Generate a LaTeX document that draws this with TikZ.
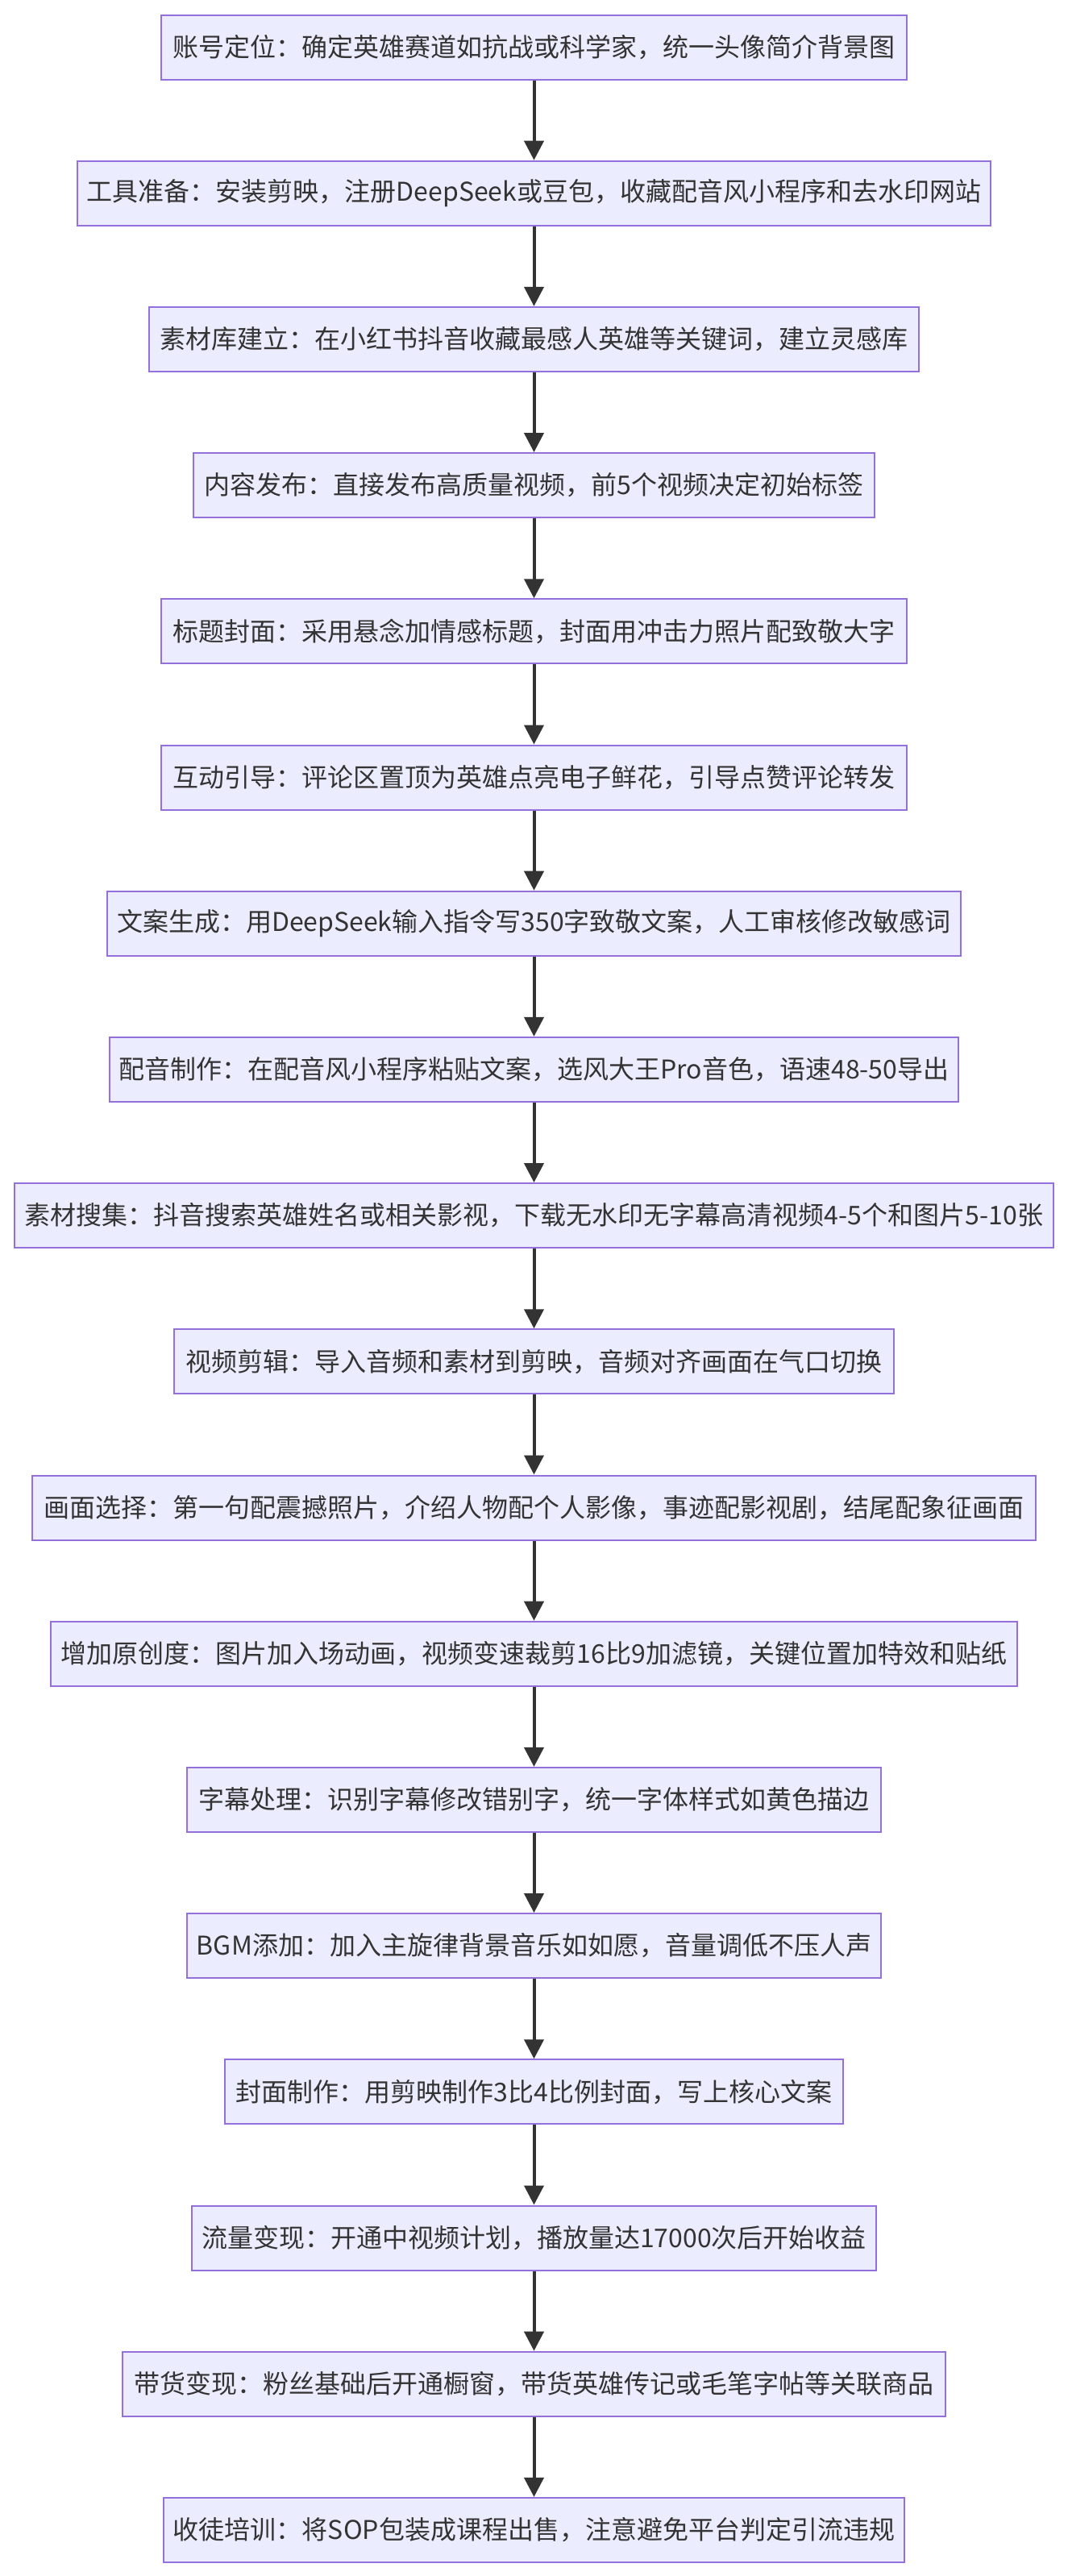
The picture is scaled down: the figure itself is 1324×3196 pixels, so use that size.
\documentclass[tikz,border=0pt]{standalone}
\usepackage{fontspec}
\setmainfont{Noto Sans CJK SC}
\usetikzlibrary{arrows.meta}
\definecolor{boxfill}{HTML}{ECECFF}
\definecolor{boxline}{HTML}{9370DB}
\definecolor{ink}{HTML}{333333}
\begin{document}
\begin{tikzpicture}[x=0.5pt,y=-0.5pt,
  stepbox/.style={draw=boxline, fill=boxfill, line width=1pt, text=ink,
    font=\fontsize{16pt}{20pt}\selectfont, minimum height=40pt,
    inner xsep=6pt, inner ysep=0pt, anchor=center},
  flow/.style={draw=ink, line width=2pt, -{Triangle[length=12pt,width=12pt]}}]
\useasboundingbox (0,0) rectangle (1324,3196);
\node[stepbox, minimum width=462.5pt] (n1) at (662.5, 58.5) {账号定位：确定英雄赛道如抗战或科学家，统一头像简介背景图};
\node[stepbox, minimum width=562.5pt] (n2) at (662.5, 239.7) {工具准备：安装剪映，注册DeepSeek或豆包，收藏配音风小程序和去水印网站};
\node[stepbox, minimum width=477.5pt] (n3) at (662.5, 420.9) {素材库建立：在小红书抖音收藏最感人英雄等关键词，建立灵感库};
\node[stepbox, minimum width=422.5pt] (n4) at (662.5, 602.1) {内容发布：直接发布高质量视频，前5个视频决定初始标签};
\node[stepbox, minimum width=462.5pt] (n5) at (662.5, 783.3) {标题封面：采用悬念加情感标题，封面用冲击力照片配致敬大字};
\node[stepbox, minimum width=462.5pt] (n6) at (662.5, 964.5) {互动引导：评论区置顶为英雄点亮电子鲜花，引导点赞评论转发};
\node[stepbox, minimum width=524.5pt] (n7) at (662.5, 1145.7) {文案生成：用DeepSeek输入指令写350字致敬文案，人工审核修改敏感词};
\node[stepbox, minimum width=524.5pt] (n8) at (662.5, 1326.9) {配音制作：在配音风小程序粘贴文案，选风大王Pro音色，语速48-50导出};
\node[stepbox, minimum width=644.5pt] (n9) at (662.5, 1508.1) {素材搜集：抖音搜索英雄姓名或相关影视，下载无水印无字幕高清视频4-5个和图片5-10张};
\node[stepbox, minimum width=446.5pt] (n10) at (662.5, 1689.3) {视频剪辑：导入音频和素材到剪映，音频对齐画面在气口切换};
\node[stepbox, minimum width=622.5pt] (n11) at (662.5, 1870.5) {画面选择：第一句配震撼照片，介绍人物配个人影像，事迹配影视剧，结尾配象征画面};
\node[stepbox, minimum width=599.5pt] (n12) at (662.5, 2051.7) {增加原创度：图片加入场动画，视频变速裁剪16比9加滤镜，关键位置加特效和贴纸};
\node[stepbox, minimum width=430.5pt] (n13) at (662.5, 2232.9) {字幕处理：识别字幕修改错别字，统一字体样式如黄色描边};
\node[stepbox, minimum width=429.5pt] (n14) at (662.5, 2414.1) {BGM添加：加入主旋律背景音乐如如愿，音量调低不压人声};
\node[stepbox, minimum width=383.5pt] (n15) at (662.5, 2595.3) {封面制作：用剪映制作3比4比例封面，写上核心文案};
\node[stepbox, minimum width=424.5pt] (n16) at (662.5, 2776.5) {流量变现：开通中视频计划，播放量达17000次后开始收益};
\node[stepbox, minimum width=510.5pt] (n17) at (662.5, 2957.7) {带货变现：粉丝基础后开通橱窗，带货英雄传记或毛笔字帖等关联商品};
\node[stepbox, minimum width=457.5pt] (n18) at (662.5, 3138.9) {收徒培训：将SOP包装成课程出售，注意避免平台判定引流违规};
\foreach \a/\b in {1/2,2/3,3/4,4/5,5/6,6/7,7/8,8/9,9/10,10/11,11/12,12/13,13/14,14/15,15/16,16/17,17/18}
  \draw[flow] (n\a.south) -- (n\b.north);
\end{tikzpicture}
\end{document}
